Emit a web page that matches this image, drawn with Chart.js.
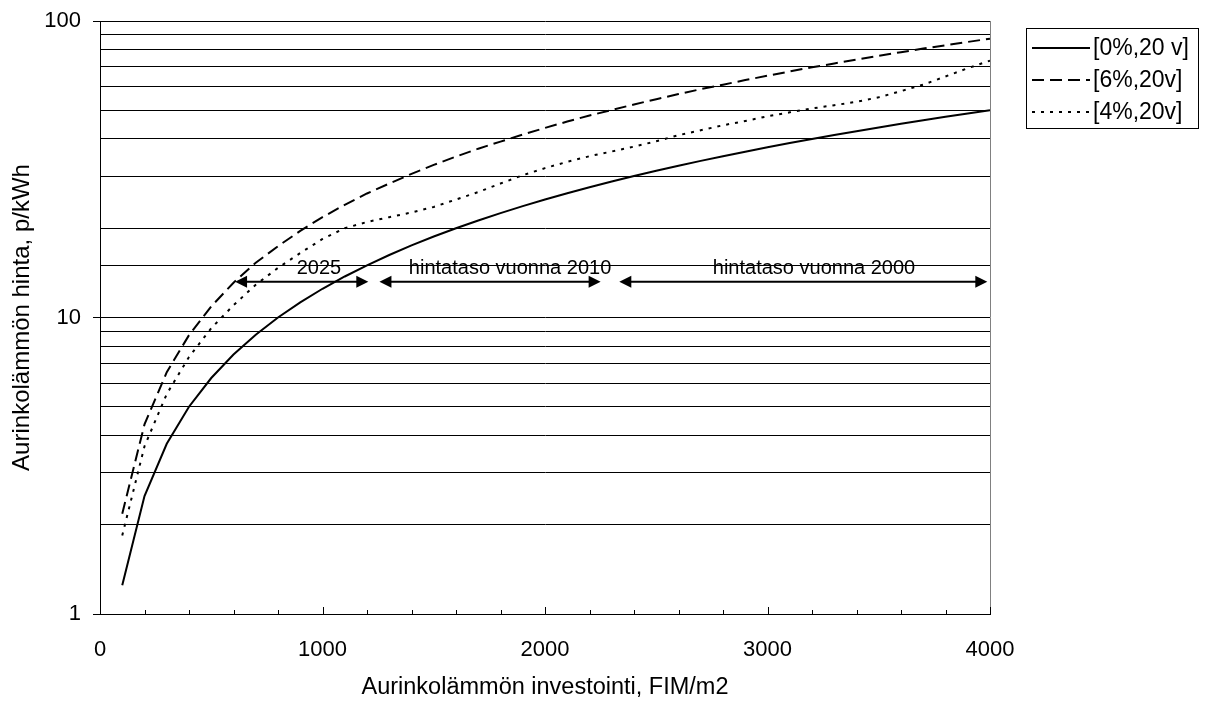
<!DOCTYPE html>
<html>
<head>
<meta charset="utf-8">
<script src="https://cdn.jsdelivr.net/npm/chart.js@4.4.1/dist/chart.umd.min.js"></script>
<style>
  html, body { margin: 0; padding: 0; background: #fff; }
  #wrap { width: 1205px; height: 703px; }
</style>
</head>
<body>
<div id="wrap"><canvas id="graficoCanvas" width="1205" height="703"></canvas></div>
<script>
// =====================================================
// DATA (luettu kuvasta)
// =====================================================
const investointi = [100, 200, 300, 400, 500, 600, 700, 800, 900, 1000,
  1100, 1200, 1300, 1400, 1500, 1600, 1700, 1800, 1900, 2000,
  2100, 2200, 2300, 2400, 2500, 2600, 2700, 2800, 2900, 3000,
  3100, 3200, 3300, 3400, 3500, 3600, 3700, 3800, 3900, 4000];

// [0%,20 v]
const hinta0 = [1.25, 2.5, 3.75, 5, 6.25, 7.5, 8.75, 10, 11.25, 12.5,
  13.75, 15, 16.25, 17.5, 18.75, 20, 21.25, 22.5, 23.75, 25,
  26.25, 27.5, 28.75, 30, 31.25, 32.5, 33.75, 35, 36.25, 37.5,
  38.75, 40, 41.25, 42.5, 43.75, 45, 46.25, 47.5, 48.75, 50];

// [6%,20v]
const hinta6 = [2.18, 4.36, 6.54, 8.72, 10.9, 13.1, 15.3, 17.4, 19.6, 21.8,
  24.0, 26.2, 28.3, 30.5, 32.7, 34.9, 37.1, 39.2, 41.4, 43.6,
  45.8, 48.0, 50.1, 52.3, 54.5, 56.7, 58.9, 61.0, 63.2, 65.4,
  67.6, 69.8, 71.9, 74.1, 76.3, 78.5, 80.7, 82.8, 85.0, 87.2];

// [4%,20v]
const hinta4 = [1.84, 3.68, 5.52, 7.36, 9.2, 11.0, 12.9, 14.7, 16.5, 18.4,
  20.0, 21.0, 21.8, 22.6, 23.6, 25.0, 26.5, 28.3, 30.2, 31.9,
  33.5, 35.0, 36.3, 37.7, 39.3, 41.2, 42.8, 44.5, 46.0, 47.7,
  49.2, 50.7, 52.0, 53.4, 55.3, 58.0, 61.0, 65.0, 69.3, 73.5];

const sarjaNimet = ["[0%,20 v]", "[6%,20v]", "[4%,20v]"];
const yTickLabels = [1, 10, 100];
const xTickLabels = [0, 1000, 2000, 3000, 4000];

// nuolet + tekstit
const nuoliTekstit = ["2025", "hintataso vuonna 2010", "hintataso vuonna 2000"];
const nuoliAlku = [607, 1256, 2334];
const nuoliLoppu = [1206, 2250, 3988];
const nuoliTaso = [13.2, 13.2, 13.2];
const tekstiX = [984, 1843, 3209];

const FONT = "'Liberation Sans', Arial, sans-serif";
Chart.defaults.font.family = FONT;
Chart.defaults.color = "#000";

// ---------- apufunktiot ----------
function toPoints(values) {
  return values.map((v, i) => ({ x: investointi[i], y: v }));
}

function drawArrowHead(ctx, tipX, y, dir) {
  ctx.beginPath();
  ctx.moveTo(tipX, y);
  ctx.lineTo(tipX + dir * 12, y - 6);
  ctx.lineTo(tipX + dir * 12, y + 6);
  ctx.closePath();
  ctx.fill();
}

// =====================================================
// PLUGIN: tikit, reunus, nuolet, selite
// =====================================================
const excelExtras = {
  id: "excelExtras",
  afterDatasetsDraw(chart) {
    const ctx = chart.ctx;
    const { top, bottom, right } = chart.chartArea;
    const xs = chart.scales.x;
    const ys = chart.scales.y;
    ctx.save();

    // oikea reuna
    ctx.strokeStyle = "#808080";
    ctx.lineWidth = 1;
    ctx.beginPath();
    ctx.moveTo(Math.round(right) + 0.5, top);
    ctx.lineTo(Math.round(right) + 0.5, bottom);
    ctx.stroke();

    // x-tikit sisäänpäin
    ctx.strokeStyle = "#000";
    xs.ticks.forEach(t => {
      const px = Math.round(xs.getPixelForValue(t.value)) + 0.5;
      const len = xTickLabels.includes(t.value) ? 7 : 4;
      ctx.beginPath();
      ctx.moveTo(px, bottom);
      ctx.lineTo(px, bottom - len);
      ctx.stroke();
    });

    // nuolet
    ctx.fillStyle = "#000";
    ctx.lineWidth = 2;
    ctx.font = "20px " + FONT;
    ctx.textAlign = "center";
    ctx.textBaseline = "middle";
    nuoliTekstit.forEach((txt, i) => {
      const x1 = xs.getPixelForValue(nuoliAlku[i]);
      const x2 = xs.getPixelForValue(nuoliLoppu[i]);
      const y = ys.getPixelForValue(nuoliTaso[i]);
      ctx.beginPath();
      ctx.moveTo(x1 + 10, y);
      ctx.lineTo(x2 - 10, y);
      ctx.stroke();
      drawArrowHead(ctx, x1, y, 1);
      drawArrowHead(ctx, x2, y, -1);
      ctx.fillText(txt, xs.getPixelForValue(tekstiX[i]), y - 13);
    });

    // selite
    ctx.lineWidth = 1;
    ctx.strokeStyle = "#000";
    ctx.strokeRect(1026.5, 28.5, 172, 100);
    ctx.font = "23px " + FONT;
    ctx.textAlign = "left";
    chart.data.datasets.forEach((ds, i) => {
      const y = 48 + i * 32;
      ctx.save();
      ctx.strokeStyle = ds.borderColor;
      ctx.lineWidth = ds.borderWidth;
      ctx.setLineDash(ds.borderDash || []);
      ctx.beginPath();
      ctx.moveTo(1032, y);
      ctx.lineTo(1090, y);
      ctx.stroke();
      ctx.restore();
      ctx.fillText(ds.label, 1093, y + 1);
    });

    ctx.restore();
  }
};

// =====================================================
// KAAVIO
// =====================================================
const ctx = document.getElementById("graficoCanvas").getContext("2d");
const chartInstance = new Chart(ctx, {
  type: "line",
  data: {
    datasets: [
      { label: sarjaNimet[0], data: toPoints(hinta0), borderColor: "#000", borderWidth: 2, borderDash: [] },
      { label: sarjaNimet[1], data: toPoints(hinta6), borderColor: "#000", borderWidth: 2, borderDash: [12, 6] },
      { label: sarjaNimet[2], data: toPoints(hinta4), borderColor: "#000", borderWidth: 2, borderDash: [3, 6] }
    ]
  },
  options: {
    responsive: false,
    animation: false,
    events: [],
    elements: { point: { radius: 0 }, line: { tension: 0, fill: false } },
    layout: { padding: { top: 21, right: 215, left: 0, bottom: 0 } },
    plugins: { legend: { display: false }, tooltip: { enabled: false } },
    scales: {
      x: {
        type: "linear",
        min: 0,
        max: 4000,
        afterFit: s => { s.height = 89; },
        border: { display: true, color: "#000", width: 1 },
        grid: { display: false, drawTicks: false },
        ticks: {
          stepSize: 200,
          autoSkip: false,
          maxRotation: 0,
          padding: 23,
          font: { size: 22 },
          callback: v => (xTickLabels.includes(v) ? String(v) : "")
        },
        title: {
          display: true,
          text: "Aurinkolämmön investointi, FIM/m2",
          font: { size: 23.5 },
          padding: { top: 0, bottom: 1 }
        }
      },
      y: {
        type: "logarithmic",
        min: 1,
        max: 100,
        afterFit: s => { s.width = 100; },
        border: { display: true, color: "#000", width: 1 },
        grid: {
          color: "#000",
          lineWidth: 1,
          tickLength: 7,
          tickColor: c => (yTickLabels.includes(c.tick && c.tick.value) ? "#000" : "rgba(0,0,0,0)")
        },
        ticks: {
          autoSkip: false,
          padding: 12,
          font: { size: 22, lineHeight: 0.8 },
          callback: v => (yTickLabels.includes(v) ? String(v) : "")
        },
        title: {
          display: true,
          text: "Aurinkolämmön hinta, p/kWh",
          font: { size: 24 },
          padding: { top: 8, bottom: 0 }
        }
      }
    }
  },
  plugins: [excelExtras]
});
</script>
</body>
</html>
